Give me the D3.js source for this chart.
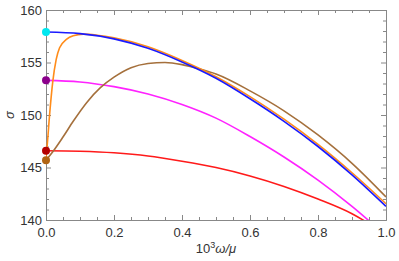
<!DOCTYPE html>
<html>
<head>
<meta charset="utf-8">
<script src="https://cdn.jsdelivr.net/npm/d3@7"></script>
<style>
  body { margin: 0; background: #fff; }
  .axis text { font-family: "Liberation Sans", Arial, sans-serif; font-size: 13px; fill: #333; }
  .axis path, .axis line { stroke: #888; }
</style>
</head>
<body>
<svg width="399" height="261"></svg>
<script>
// curves
const blueX = [0, 0.1, 0.2, 0.3, 0.4, 0.5, 0.6, 0.7, 0.8, 0.9, 1.0];
const blueY = [157.9, 157.75, 157.25, 156.35, 155.05, 153.5, 151.55, 149.4, 147.0, 144.3, 141.3];

const orangeX = [0, 0.004, 0.01, 0.02, 0.03, 0.04, 0.06, 0.08, 0.11, 0.15, 0.2, 0.3, 0.4, 0.5, 0.6, 0.7, 0.8, 0.9, 1.0];
const orangeY = [146.0, 147.3, 149.8, 153.2, 155.3, 156.4, 157.2, 157.55, 157.7, 157.6, 157.35, 156.5, 155.2, 153.65, 151.75, 149.6, 147.2, 144.5, 141.55];

const brownX = [0, 0.02, 0.05, 0.08, 0.12, 0.16, 0.2, 0.25, 0.3, 0.35, 0.4, 0.45, 0.5, 0.6, 0.7, 0.8, 0.9, 1.0];
const brownY = [145.7, 146.5, 147.9, 149.4, 151.2, 152.6, 153.6, 154.5, 154.9, 155.0, 154.8, 154.4, 153.9, 152.3, 150.4, 148.1, 145.4, 142.2];

const magentaX = [0, 0.1, 0.2, 0.3, 0.4, 0.5, 0.6, 0.7, 0.8, 0.9, 1.0];
const magentaY = [153.3, 153.15, 152.7, 152.0, 151.0, 149.7, 147.95, 146.0, 143.8, 141.3, 138.5];

const redX = [0, 0.1, 0.2, 0.3, 0.4, 0.5, 0.6, 0.7, 0.8, 0.9, 1.0];
const redY = [146.6, 146.55, 146.4, 146.1, 145.6, 145.0, 144.2, 143.2, 142.0, 140.6, 138.6];

const dotY = [157.9, 153.3, 146.6, 145.7];
const dotColors = ["#00e8f0", "#8c008c", "#b40000", "#b06414"];

const xTicks = [0, 0.2, 0.4, 0.6, 0.8, 1.0];
const yTicks = [140, 145, 150, 155, 160];

const svg = d3.select("svg");
const margin = {top: 10, right: 13, bottom: 41, left: 46};
const width = 399 - margin.left - margin.right;
const height = 261 - margin.top - margin.bottom;

const x = d3.scaleLinear().domain([0, 1]).range([0, width]);
const y = d3.scaleLinear().domain([140, 160]).range([height, 0]);

const g = svg.append("g")
  .attr("transform", `translate(${margin.left},${margin.top})`);

const minorX = d3.range(0, 1.0001, 0.05).filter(v => Math.abs(v * 5 - Math.round(v * 5)) > 1e-6);
const minorY = d3.range(140, 160.001, 1).filter(v => v % 5 !== 0);

function drawAxis(axisFn, tr, labels) {
  const ax = g.append("g").attr("class", "axis").attr("transform", tr);
  ax.call(axisFn);
  if (!labels) ax.selectAll("text").remove();
  return ax;
}

// bottom / top
drawAxis(d3.axisBottom(x).tickValues(xTicks).tickFormat(d3.format(".1f")).tickSize(-5).tickSizeOuter(0).tickPadding(8),
  `translate(0,${height})`, true);
drawAxis(d3.axisBottom(x).tickValues(minorX).tickSize(-3).tickSizeOuter(0), `translate(0,${height})`, false);
drawAxis(d3.axisTop(x).tickValues(xTicks).tickSize(-5).tickSizeOuter(0), "translate(0,0)", false);
drawAxis(d3.axisTop(x).tickValues(minorX).tickSize(-3).tickSizeOuter(0), "translate(0,0)", false);
// left / right
drawAxis(d3.axisLeft(y).tickValues(yTicks).tickSize(-5).tickSizeOuter(0).tickPadding(4), "translate(0,0)", true);
drawAxis(d3.axisLeft(y).tickValues(minorY).tickSize(-3).tickSizeOuter(0), "translate(0,0)", false);
drawAxis(d3.axisRight(y).tickValues(yTicks).tickSize(-5).tickSizeOuter(0), `translate(${width},0)`, false);
drawAxis(d3.axisRight(y).tickValues(minorY).tickSize(-3).tickSizeOuter(0), `translate(${width},0)`, false);

g.append("clipPath").attr("id", "clip")
  .append("rect").attr("width", width).attr("height", height);

const line = d3.line()
  .x(d => x(d[0]))
  .y(d => y(d[1]))
  .curve(d3.curveMonotoneX);

const series = [
  {xs: redX, ys: redY, color: "#ff1a1a"},
  {xs: magentaX, ys: magentaY, color: "#ff22ff"},
  {xs: brownX, ys: brownY, color: "#a5703c"},
  {xs: orangeX, ys: orangeY, color: "#ff8c1a"},
  {xs: blueX, ys: blueY, color: "#1a1aff"}
];

g.append("g").attr("clip-path", "url(#clip)")
  .selectAll("path")
  .data(series)
  .enter().append("path")
    .attr("d", s => line(s.xs.map((v, i) => [v, s.ys[i]])))
    .attr("fill", "none")
    .attr("stroke", s => s.color)
    .attr("stroke-width", 1.6);

g.selectAll(".dot")
  .data(dotY)
  .enter().append("circle")
    .attr("class", "dot")
    .attr("cx", x(0))
    .attr("cy", d => y(d))
    .attr("r", 4)
    .attr("fill", (d, i) => dotColors[i]);

// axis titles
const xt = svg.append("text")
  .attr("x", margin.left + x(0.5))
  .attr("y", 253)
  .attr("text-anchor", "middle")
  .style("font-family", "Liberation Sans, Arial, sans-serif")
  .style("font-size", "13px")
  .attr("fill", "#333");
xt.append("tspan").text("10");
xt.append("tspan").attr("dy", -5).style("font-size", "9px").text("3");
xt.append("tspan").attr("dy", 5).style("font-style", "italic").text("ω/μ");

svg.append("text")
  .attr("transform", `translate(14,${margin.top + y(150)}) rotate(-90)`)
  .attr("text-anchor", "middle")
  .style("font-family", "Liberation Sans, Arial, sans-serif")
  .style("font-size", "13px")
  .style("font-style", "italic")
  .attr("fill", "#333")
  .text("σ");
</script>
</body>
</html>
